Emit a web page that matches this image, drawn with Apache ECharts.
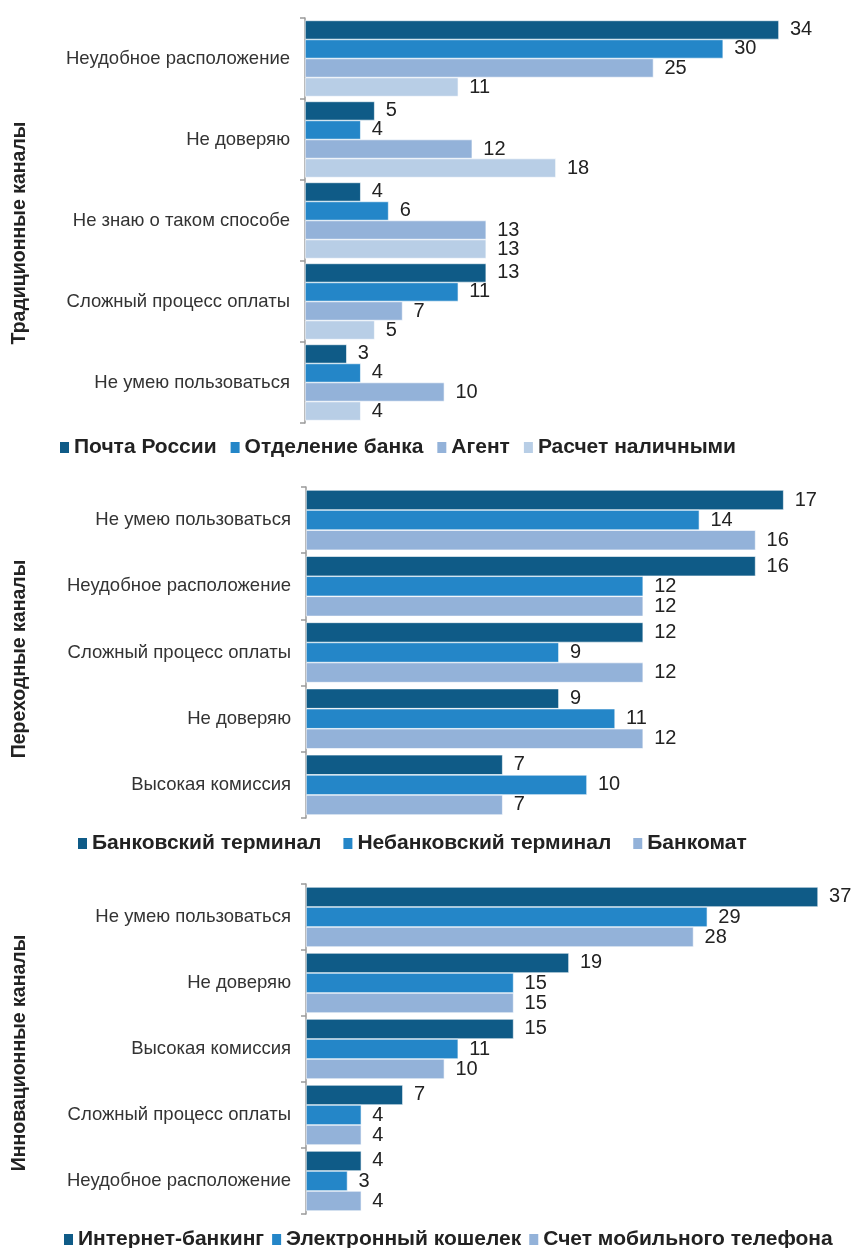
<!DOCTYPE html>
<html>
<head>
<meta charset="utf-8">
<script src="https://cdn.jsdelivr.net/npm/echarts@6/dist/echarts.min.js"></script>
<style>
  html, body { margin: 0; padding: 0; background: #fff; }
  #chart { width: 856px; height: 1248px; }
</style>
</head>
<body>
<div id="chart"></div>
<script>
// panel 1 — традиционные каналы
const cats1 = ['Неудобное расположение', 'Не доверяю', 'Не знаю о таком способе', 'Сложный процесс оплаты', 'Не умею пользоваться']
const names1 = ['Почта России', 'Отделение банка', 'Агент', 'Расчет наличными']
const pochta = [34, 5, 4, 13, 3]
const otdelenie = [30, 4, 6, 11, 4]
const agent = [25, 12, 13, 7, 10]
const nalichnye = [11, 18, 13, 5, 4]

// panel 2 — переходные каналы
const cats2 = ['Не умею пользоваться', 'Неудобное расположение', 'Сложный процесс оплаты', 'Не доверяю', 'Высокая комиссия']
const names2 = ['Банковский терминал', 'Небанковский терминал', 'Банкомат']
const bankTerm = [17, 16, 12, 9, 7]
const nebankTerm = [14, 12, 9, 11, 10]
const bankomat = [16, 12, 12, 12, 7]

// panel 3 — инновационные каналы
const cats3 = ['Не умею пользоваться', 'Не доверяю', 'Высокая комиссия', 'Сложный процесс оплаты', 'Неудобное расположение']
const names3 = ['Интернет-банкинг', 'Электронный кошелек', 'Счет мобильного телефона']
const internet = [37, 19, 15, 7, 4]
const koshelek = [29, 15, 11, 4, 3]
const mobile = [28, 15, 10, 4, 4]

const panelTitles = ['Традиционные каналы', 'Переходные каналы', 'Инновационные каналы']
const palette = ['#0f5b87', '#2486c8', '#93b2d9', '#b8cee6']

const font = '"Liberation Sans", Arial, sans-serif'

const grids = [
  { left: 305, top: 18, width: 38 * 13.94, height: 405 },
  { left: 306, top: 487, width: 18 * 28.1, height: 331 },
  { left: 306, top: 884, width: 38 * 13.84, height: 330 },
]
const xMax = [38, 18, 38]
const catGap = ['6%', '9%', '9%']
const titleY = [233, 659, 1053]

const panels = [
  { cats: cats1, names: names1, data: [pochta, otdelenie, agent, nalichnye] },
  { cats: cats2, names: names2, data: [bankTerm, nebankTerm, bankomat] },
  { cats: cats3, names: names3, data: [internet, koshelek, mobile] },
]

const xAxis = panels.map((p, i) => ({
  type: 'value', gridIndex: i, min: 0, max: xMax[i], show: false,
}))

const yAxis = panels.map((p, i) => ({
  type: 'category', gridIndex: i, data: p.cats, inverse: true,
  axisLine: { lineStyle: { color: '#9a9a9a', width: 1.5 } },
  axisTick: { show: true, interval: 0, length: 5, lineStyle: { color: '#9a9a9a', width: 1.5 } },
  axisLabel: { fontFamily: font, fontSize: 18.5, color: '#333', margin: 15 },
}))

const series = []
panels.forEach((p, i) => {
  p.names.forEach((n, j) => {
    series.push({
      name: n,
      type: 'bar',
      xAxisIndex: i,
      yAxisIndex: i,
      data: p.data[j],
      barGap: 0,
      barCategoryGap: catGap[i],
      itemStyle: { color: palette[j], borderColor: '#ffffff', borderWidth: 0.6 },
      label: {
        show: true, position: 'right', distance: 11,
        fontFamily: font, fontSize: 20, color: '#222',
      },
    })
  })
})

const legendTops = [432, 828, 1224]
const legendLefts = [55, 73, 59]
const legendGaps = [14, 22, 8]
const legend = panels.map((p, i) => ({
  data: p.names.map((n, j) => ({
    name: n,
    itemStyle: { color: palette[j], borderWidth: 0 },
  })),
  top: legendTops[i],
  left: legendLefts[i],
  icon: 'rect',
  itemWidth: 9,
  itemHeight: 11,
  itemGap: legendGaps[i],
  textStyle: { fontFamily: font, fontWeight: 'bold', fontSize: 21, color: '#222' },
}))

const graphic = panelTitles.map((t, i) => ({
  type: 'text',
  x: 20,
  y: titleY[i],
  rotation: Math.PI / 2,
  style: {
    text: t, fontFamily: font, fontWeight: 'bold', fontSize: 19.5, fill: '#222',
    align: 'center', verticalAlign: 'middle',
  },
}))

const chart = echarts.init(document.getElementById('chart'))
chart.setOption({
  backgroundColor: '#fff',
  animation: false,
  grid: grids,
  xAxis,
  yAxis,
  legend,
  graphic,
  series,
})
</script>
</body>
</html>
